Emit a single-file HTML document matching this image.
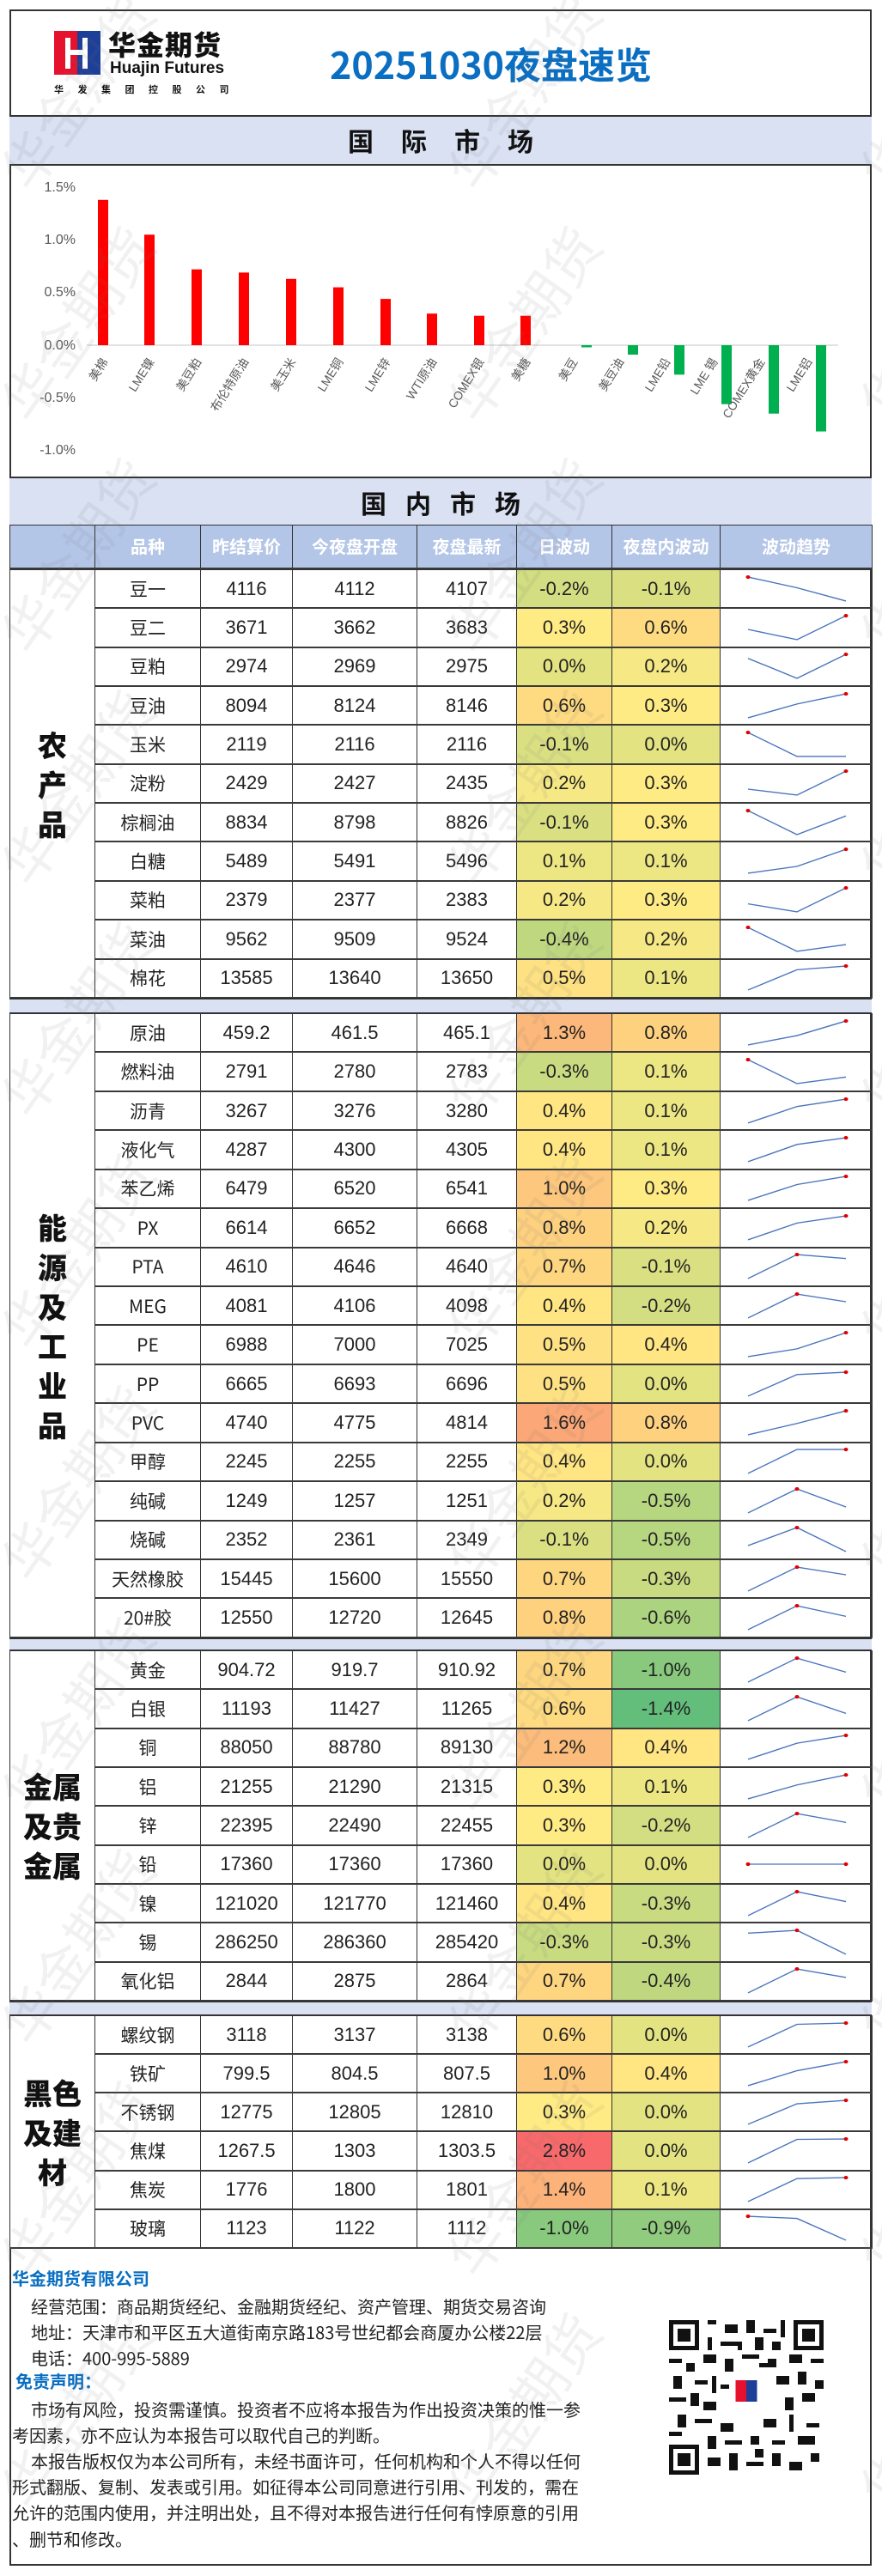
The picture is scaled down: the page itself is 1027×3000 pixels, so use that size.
<!DOCTYPE html>
<html><head><meta charset="utf-8">
<style>
*{margin:0;padding:0;box-sizing:border-box}
body{width:1027px;height:3000px;background:#fff;position:relative;overflow:hidden;font-family:"Liberation Sans","Noto Sans CJK SC",sans-serif;color:#222}
.abs{position:absolute}
.frame{left:11px;top:11px;width:1004px;height:2977px;border:2px solid #333}
.band{left:11px;width:1004px;background:#d9e1f2;border-top:2px solid #333;border-bottom:2px solid #333;text-align:center;font-weight:bold;color:#111;font-family:"Noto Sans CJK SC",sans-serif}
table{position:absolute;left:11px;width:1004px;border-collapse:collapse;table-layout:fixed}
td{border:1px solid #333;border-bottom:2px solid #3a3a3a;text-align:center;font-family:"Liberation Sans Narrow","Liberation Sans","Noto Sans CJK SC",sans-serif;font-size:22px;line-height:24px;color:#222;padding:0;height:38px;overflow:hidden}
td.nm{font-family:"Liberation Sans Narrow","Noto Sans CJK SC",sans-serif;font-size:21px}
td.cat{background:#fff;font-family:"Noto Sans CJK SC",sans-serif;font-weight:900;font-size:34px;line-height:46px;color:#111;border-right:1px solid #333}
td svg{display:block;height:38px;width:177px}
polyline{fill:none;stroke:#4a74bd;stroke-width:1.6}
circle{fill:#e00000}
.hd td{background:#b4c6e7;color:#fff;font-weight:bold;font-family:"Noto Sans CJK SC",sans-serif;font-size:20px;height:50px}
.n14{background:#63be7b}.n10{background:#88c97d}.n09{background:#91cb7e}.n06{background:#acd37f}.n05{background:#b6d680}.n04{background:#bfd880}.n03{background:#c8db81}.n02{background:#d2de81}.n01{background:#dae082}.z{background:#e3e382}.p01{background:#ece683}.p02{background:#f6e884}.p03{background:#ffeb84}.p04{background:#ffe683}.p05{background:#fee182}.p06{background:#fedb81}.p07{background:#fed680}.p08{background:#fed17f}.p10{background:#fdc77d}.p12{background:#fcbc7b}.p13{background:#fcb77a}.p14{background:#fcb279}.p16{background:#fba777}.p28{background:#f8696b}
.sep{left:11px;width:1004px;background:#d9e1f2;border-top:2px solid #333;border-bottom:2px solid #333}
.wm{position:absolute;font-family:"Noto Sans CJK SC",sans-serif;font-size:64px;color:rgba(120,120,120,0.10);transform:rotate(-55deg);white-space:nowrap;pointer-events:none}
.ft{position:absolute;left:36px;font-family:"Liberation Sans Narrow","Noto Sans CJK SC",sans-serif;font-size:20px;color:#222;white-space:nowrap}
</style></head><body>

<div class="abs frame"></div>

<div class="abs" style="left:63px;top:36px;width:27px;height:51px;background:#e5112d"></div>
<div class="abs" style="left:90px;top:36px;width:27px;height:51px;background:#1d3f97"></div>
<div class="abs" style="left:76px;top:44px;width:6px;height:36px;background:#fff"></div>
<div class="abs" style="left:96px;top:44px;width:6px;height:36px;background:#fff"></div>
<div class="abs" style="left:80px;top:58px;width:18px;height:6px;background:#fff"></div>
<div class="abs" style="left:126px;top:32px;font-family:'Noto Sans CJK SC',sans-serif;font-weight:900;font-size:32px;color:#111;letter-spacing:1px;line-height:38px">华金期货</div>
<div class="abs" style="left:128px;top:70px;font-family:'Liberation Sans Narrow','Liberation Sans',sans-serif;font-weight:bold;font-size:19px;color:#111;line-height:20px">Huajin Futures</div>
<div class="abs" style="left:63px;top:97px;font-family:'Noto Sans CJK SC',sans-serif;font-weight:bold;font-size:11px;color:#111;letter-spacing:16.5px;line-height:14px">华发集团控股公司</div>
<div class="abs" style="left:384px;top:46px;font-family:'Liberation Sans Narrow','Noto Sans CJK SC',sans-serif;font-weight:bold;font-size:43px;color:#0a6fc2;line-height:56px;white-space:nowrap">20251030夜盘速览</div>

<div class="abs band" style="top:134px;height:59px;font-size:30px;line-height:55px;letter-spacing:32px;padding-left:32px">国际市场</div>

<svg class="abs" style="left:0;top:0" width="1027" height="555">
<g font-family="Liberation Sans Narrow,Liberation Sans,sans-serif" font-size="16" fill="#595959" text-anchor="end">
<text x="88" y="223">1.5%</text><text x="88" y="284">1.0%</text><text x="88" y="345">0.5%</text><text x="88" y="407">0.0%</text><text x="88" y="468">-0.5%</text><text x="88" y="529">-1.0%</text>
</g>
<line x1="101" y1="402" x2="976" y2="402" stroke="#d9d9d9" stroke-width="1.5"/>
<g fill="#ff0000">
<rect x="114" y="232.8" width="12" height="169.2"/>
<rect x="168" y="273.3" width="12" height="128.7"/>
<rect x="223" y="313.7" width="12" height="88.3"/>
<rect x="278" y="317.4" width="12" height="84.6"/>
<rect x="333" y="324.8" width="12" height="77.2"/>
<rect x="388" y="334.6" width="12" height="67.4"/>
<rect x="443" y="348.1" width="12" height="53.9"/>
<rect x="497" y="365.2" width="12" height="36.8"/>
<rect x="552" y="367.7" width="12" height="34.3"/>
<rect x="606" y="367.7" width="12" height="34.3"/>
</g>
<g fill="#00b050">
<rect x="677" y="402" width="12" height="2.5"/>
<rect x="731" y="402" width="12" height="11"/>
<rect x="785" y="402" width="12" height="34.3"/>
<rect x="840" y="402" width="12" height="68.7"/>
<rect x="895" y="402" width="12" height="79.7"/>
<rect x="950" y="402" width="12" height="100.5"/>
</g>
<g font-family="Liberation Sans,Noto Sans CJK SC,sans-serif" font-size="14" fill="#595959" text-anchor="end">
<text transform="translate(126,421) rotate(-58)">美棉</text>
<text transform="translate(180,421) rotate(-58)">LME镍</text>
<text transform="translate(235,421) rotate(-58)">美豆粕</text>
<text transform="translate(290,421) rotate(-58)">布伦特原油</text>
<text transform="translate(345,421) rotate(-58)">美玉米</text>
<text transform="translate(400,421) rotate(-58)">LME铜</text>
<text transform="translate(455,421) rotate(-58)">LME锌</text>
<text transform="translate(509,421) rotate(-58)">WTI原油</text>
<text transform="translate(564,421) rotate(-58)">COMEX银</text>
<text transform="translate(618,421) rotate(-58)">美糖</text>
<text transform="translate(673,421) rotate(-58)">美豆</text>
<text transform="translate(727,421) rotate(-58)">美豆油</text>
<text transform="translate(781,421) rotate(-58)">LME铅</text>
<text transform="translate(836,421) rotate(-58)">LME 锡</text>
<text transform="translate(891,421) rotate(-58)">COMEX黄金</text>
<text transform="translate(946,421) rotate(-58)">LME铝</text>
</g>
</svg>

<div class="abs band" style="top:555px;height:58px;font-size:30px;line-height:56px;letter-spacing:22px;padding-left:22px">国内市场</div>

<table class="hd" style="top:611px">
<colgroup><col style="width:99px"><col style="width:123px"><col style="width:107px"><col style="width:145px"><col style="width:116px"><col style="width:111px"><col style="width:126px"><col style="width:177px"></colgroup>
<tr><td></td><td>品种</td><td>昨结算价</td><td>今夜盘开盘</td><td>夜盘最新</td><td>日波动</td><td>夜盘内波动</td><td>波动趋势</td></tr>
</table>

<table style="top:663px;height:500px">
<colgroup><col style="width:99px"><col style="width:123px"><col style="width:107px"><col style="width:145px"><col style="width:116px"><col style="width:111px"><col style="width:126px"><col style="width:177px"></colgroup>
<tr><td class="cat" rowspan="11">农<br>产<br>品</td><td class="nm">豆一</td><td>4116</td><td>4112</td><td>4107</td><td class="n02">-0.2%</td><td class="n01">-0.1%</td><td><svg viewBox="0 0 177 45" preserveAspectRatio="none"><polyline points="32,6 89,20.7 146,39"/><circle cx="32" cy="6" r="2.5"/></svg></td></tr>
<tr><td class="nm">豆二</td><td>3671</td><td>3662</td><td>3683</td><td class="p03">0.3%</td><td class="p06">0.6%</td><td><svg viewBox="0 0 177 45" preserveAspectRatio="none"><polyline points="32,24.9 89,39 146,6"/><circle cx="146" cy="6" r="2.5"/></svg></td></tr>
<tr><td class="nm">豆粕</td><td>2974</td><td>2969</td><td>2975</td><td class="z">0.0%</td><td class="p02">0.2%</td><td><svg viewBox="0 0 177 45" preserveAspectRatio="none"><polyline points="32,11.5 89,39 146,6"/><circle cx="146" cy="6" r="2.5"/></svg></td></tr>
<tr><td class="nm">豆油</td><td>8094</td><td>8124</td><td>8146</td><td class="p06">0.6%</td><td class="p03">0.3%</td><td><svg viewBox="0 0 177 45" preserveAspectRatio="none"><polyline points="32,39 89,20 146,6"/><circle cx="146" cy="6" r="2.5"/></svg></td></tr>
<tr><td class="nm">玉米</td><td>2119</td><td>2116</td><td>2116</td><td class="n01">-0.1%</td><td class="z">0.0%</td><td><svg viewBox="0 0 177 45" preserveAspectRatio="none"><polyline points="32,6 89,39 146,39"/><circle cx="32" cy="6" r="2.5"/></svg></td></tr>
<tr><td class="nm">淀粉</td><td>2429</td><td>2427</td><td>2435</td><td class="p02">0.2%</td><td class="p03">0.3%</td><td><svg viewBox="0 0 177 45" preserveAspectRatio="none"><polyline points="32,30.8 89,39 146,6"/><circle cx="146" cy="6" r="2.5"/></svg></td></tr>
<tr><td class="nm">棕榈油</td><td>8834</td><td>8798</td><td>8826</td><td class="n01">-0.1%</td><td class="p03">0.3%</td><td><svg viewBox="0 0 177 45" preserveAspectRatio="none"><polyline points="32,6 89,39 146,13.3"/><circle cx="32" cy="6" r="2.5"/></svg></td></tr>
<tr><td class="nm">白糖</td><td>5489</td><td>5491</td><td>5496</td><td class="p01">0.1%</td><td class="p01">0.1%</td><td><svg viewBox="0 0 177 45" preserveAspectRatio="none"><polyline points="32,39 89,29.6 146,6"/><circle cx="146" cy="6" r="2.5"/></svg></td></tr>
<tr><td class="nm">菜粕</td><td>2379</td><td>2377</td><td>2383</td><td class="p02">0.2%</td><td class="p03">0.3%</td><td><svg viewBox="0 0 177 45" preserveAspectRatio="none"><polyline points="32,28 89,39 146,6"/><circle cx="146" cy="6" r="2.5"/></svg></td></tr>
<tr><td class="nm">菜油</td><td>9562</td><td>9509</td><td>9524</td><td class="n04">-0.4%</td><td class="p02">0.2%</td><td><svg viewBox="0 0 177 45" preserveAspectRatio="none"><polyline points="32,6 89,39 146,29.7"/><circle cx="32" cy="6" r="2.5"/></svg></td></tr>
<tr><td class="nm">棉花</td><td>13585</td><td>13640</td><td>13650</td><td class="p05">0.5%</td><td class="p01">0.1%</td><td><svg viewBox="0 0 177 45" preserveAspectRatio="none"><polyline points="32,39 89,11.1 146,6"/><circle cx="146" cy="6" r="2.5"/></svg></td></tr>
</table>

<div class="abs sep" style="top:1162px;height:19px"></div>

<table style="top:1180px;height:728px">
<colgroup><col style="width:99px"><col style="width:123px"><col style="width:107px"><col style="width:145px"><col style="width:116px"><col style="width:111px"><col style="width:126px"><col style="width:177px"></colgroup>
<tr><td class="cat" rowspan="16">能<br>源<br>及<br>工<br>业<br>品</td><td class="nm">原油</td><td>459.2</td><td>461.5</td><td>465.1</td><td class="p13">1.3%</td><td class="p08">0.8%</td><td><svg viewBox="0 0 177 45" preserveAspectRatio="none"><polyline points="32,39 89,26.1 146,6"/><circle cx="146" cy="6" r="2.5"/></svg></td></tr>
<tr><td class="nm">燃料油</td><td>2791</td><td>2780</td><td>2783</td><td class="n03">-0.3%</td><td class="p01">0.1%</td><td><svg viewBox="0 0 177 45" preserveAspectRatio="none"><polyline points="32,6 89,39 146,30"/><circle cx="32" cy="6" r="2.5"/></svg></td></tr>
<tr><td class="nm">沥青</td><td>3267</td><td>3276</td><td>3280</td><td class="p04">0.4%</td><td class="p01">0.1%</td><td><svg viewBox="0 0 177 45" preserveAspectRatio="none"><polyline points="32,39 89,16.2 146,6"/><circle cx="146" cy="6" r="2.5"/></svg></td></tr>
<tr><td class="nm">液化气</td><td>4287</td><td>4300</td><td>4305</td><td class="p04">0.4%</td><td class="p01">0.1%</td><td><svg viewBox="0 0 177 45" preserveAspectRatio="none"><polyline points="32,39 89,15.2 146,6"/><circle cx="146" cy="6" r="2.5"/></svg></td></tr>
<tr><td class="nm">苯乙烯</td><td>6479</td><td>6520</td><td>6541</td><td class="p10">1.0%</td><td class="p03">0.3%</td><td><svg viewBox="0 0 177 45" preserveAspectRatio="none"><polyline points="32,39 89,17.2 146,6"/><circle cx="146" cy="6" r="2.5"/></svg></td></tr>
<tr><td class="nm">PX</td><td>6614</td><td>6652</td><td>6668</td><td class="p08">0.8%</td><td class="p02">0.2%</td><td><svg viewBox="0 0 177 45" preserveAspectRatio="none"><polyline points="32,39 89,15.8 146,6"/><circle cx="146" cy="6" r="2.5"/></svg></td></tr>
<tr><td class="nm">PTA</td><td>4610</td><td>4646</td><td>4640</td><td class="p07">0.7%</td><td class="n01">-0.1%</td><td><svg viewBox="0 0 177 45" preserveAspectRatio="none"><polyline points="32,39 89,6 146,11.5"/><circle cx="89" cy="6" r="2.5"/></svg></td></tr>
<tr><td class="nm">MEG</td><td>4081</td><td>4106</td><td>4098</td><td class="p04">0.4%</td><td class="n02">-0.2%</td><td><svg viewBox="0 0 177 45" preserveAspectRatio="none"><polyline points="32,39 89,6 146,16.6"/><circle cx="89" cy="6" r="2.5"/></svg></td></tr>
<tr><td class="nm">PE</td><td>6988</td><td>7000</td><td>7025</td><td class="p05">0.5%</td><td class="p04">0.4%</td><td><svg viewBox="0 0 177 45" preserveAspectRatio="none"><polyline points="32,39 89,28.3 146,6"/><circle cx="146" cy="6" r="2.5"/></svg></td></tr>
<tr><td class="nm">PP</td><td>6665</td><td>6693</td><td>6696</td><td class="p05">0.5%</td><td class="z">0.0%</td><td><svg viewBox="0 0 177 45" preserveAspectRatio="none"><polyline points="32,39 89,9.2 146,6"/><circle cx="146" cy="6" r="2.5"/></svg></td></tr>
<tr><td class="nm">PVC</td><td>4740</td><td>4775</td><td>4814</td><td class="p16">1.6%</td><td class="p08">0.8%</td><td><svg viewBox="0 0 177 45" preserveAspectRatio="none"><polyline points="32,39 89,23.4 146,6"/><circle cx="146" cy="6" r="2.5"/></svg></td></tr>
<tr><td class="nm">甲醇</td><td>2245</td><td>2255</td><td>2255</td><td class="p04">0.4%</td><td class="z">0.0%</td><td><svg viewBox="0 0 177 45" preserveAspectRatio="none"><polyline points="32,39 89,6 146,6"/><circle cx="146" cy="6" r="2.5"/></svg></td></tr>
<tr><td class="nm">纯碱</td><td>1249</td><td>1257</td><td>1251</td><td class="p02">0.2%</td><td class="n05">-0.5%</td><td><svg viewBox="0 0 177 45" preserveAspectRatio="none"><polyline points="32,39 89,6 146,30.8"/><circle cx="89" cy="6" r="2.5"/></svg></td></tr>
<tr><td class="nm">烧碱</td><td>2352</td><td>2361</td><td>2349</td><td class="n01">-0.1%</td><td class="n05">-0.5%</td><td><svg viewBox="0 0 177 45" preserveAspectRatio="none"><polyline points="32,30.8 89,6 146,39"/><circle cx="89" cy="6" r="2.5"/></svg></td></tr>
<tr><td class="nm">天然橡胶</td><td>15445</td><td>15600</td><td>15550</td><td class="p07">0.7%</td><td class="n03">-0.3%</td><td><svg viewBox="0 0 177 45" preserveAspectRatio="none"><polyline points="32,39 89,6 146,16.6"/><circle cx="89" cy="6" r="2.5"/></svg></td></tr>
<tr><td class="nm">20#胶</td><td>12550</td><td>12720</td><td>12645</td><td class="p08">0.8%</td><td class="n06">-0.6%</td><td><svg viewBox="0 0 177 45" preserveAspectRatio="none"><polyline points="32,39 89,6 146,20.6"/><circle cx="89" cy="6" r="2.5"/></svg></td></tr>
</table>

<div class="abs sep" style="top:1907px;height:16px"></div>

<table style="top:1922px;height:409px">
<colgroup><col style="width:99px"><col style="width:123px"><col style="width:107px"><col style="width:145px"><col style="width:116px"><col style="width:111px"><col style="width:126px"><col style="width:177px"></colgroup>
<tr><td class="cat" rowspan="9">金属<br>及贵<br>金属</td><td class="nm">黄金</td><td>904.72</td><td>919.7</td><td>910.92</td><td class="p07">0.7%</td><td class="n10">-1.0%</td><td><svg viewBox="0 0 177 45" preserveAspectRatio="none"><polyline points="32,39 89,6 146,25.3"/><circle cx="89" cy="6" r="2.5"/></svg></td></tr>
<tr><td class="nm">白银</td><td>11193</td><td>11427</td><td>11265</td><td class="p06">0.6%</td><td class="n14">-1.4%</td><td><svg viewBox="0 0 177 45" preserveAspectRatio="none"><polyline points="32,39 89,6 146,28.8"/><circle cx="89" cy="6" r="2.5"/></svg></td></tr>
<tr><td class="nm">铜</td><td>88050</td><td>88780</td><td>89130</td><td class="p12">1.2%</td><td class="p04">0.4%</td><td><svg viewBox="0 0 177 45" preserveAspectRatio="none"><polyline points="32,39 89,16.7 146,6"/><circle cx="146" cy="6" r="2.5"/></svg></td></tr>
<tr><td class="nm">铝</td><td>21255</td><td>21290</td><td>21315</td><td class="p03">0.3%</td><td class="p01">0.1%</td><td><svg viewBox="0 0 177 45" preserveAspectRatio="none"><polyline points="32,39 89,19.8 146,6"/><circle cx="146" cy="6" r="2.5"/></svg></td></tr>
<tr><td class="nm">锌</td><td>22395</td><td>22490</td><td>22455</td><td class="p03">0.3%</td><td class="n02">-0.2%</td><td><svg viewBox="0 0 177 45" preserveAspectRatio="none"><polyline points="32,39 89,6 146,18.2"/><circle cx="89" cy="6" r="2.5"/></svg></td></tr>
<tr><td class="nm">铅</td><td>17360</td><td>17360</td><td>17360</td><td class="z">0.0%</td><td class="z">0.0%</td><td><svg viewBox="0 0 177 45" preserveAspectRatio="none"><polyline points="32,22.5 89,22.5 146,22.5"/><circle cx="32" cy="22.5" r="2.5"/><circle cx="146" cy="22.5" r="2.5"/></svg></td></tr>
<tr><td class="nm">镍</td><td>121020</td><td>121770</td><td>121460</td><td class="p04">0.4%</td><td class="n03">-0.3%</td><td><svg viewBox="0 0 177 45" preserveAspectRatio="none"><polyline points="32,39 89,6 146,19.6"/><circle cx="89" cy="6" r="2.5"/></svg></td></tr>
<tr><td class="nm">锡</td><td>286250</td><td>286360</td><td>285420</td><td class="n03">-0.3%</td><td class="n03">-0.3%</td><td><svg viewBox="0 0 177 45" preserveAspectRatio="none"><polyline points="32,9.9 89,6 146,39"/><circle cx="89" cy="6" r="2.5"/></svg></td></tr>
<tr><td class="nm">氧化铝</td><td>2844</td><td>2875</td><td>2864</td><td class="p07">0.7%</td><td class="n04">-0.4%</td><td><svg viewBox="0 0 177 45" preserveAspectRatio="none"><polyline points="32,39 89,6 146,17.7"/><circle cx="89" cy="6" r="2.5"/></svg></td></tr>
</table>

<div class="abs sep" style="top:2330px;height:18px"></div>

<table style="top:2347px;height:272px">
<colgroup><col style="width:99px"><col style="width:123px"><col style="width:107px"><col style="width:145px"><col style="width:116px"><col style="width:111px"><col style="width:126px"><col style="width:177px"></colgroup>
<tr><td class="cat" rowspan="6">黑色<br>及建<br>材</td><td class="nm">螺纹钢</td><td>3118</td><td>3137</td><td>3138</td><td class="p06">0.6%</td><td class="z">0.0%</td><td><svg viewBox="0 0 177 45" preserveAspectRatio="none"><polyline points="32,39 89,7.7 146,6"/><circle cx="146" cy="6" r="2.5"/></svg></td></tr>
<tr><td class="nm">铁矿</td><td>799.5</td><td>804.5</td><td>807.5</td><td class="p10">1.0%</td><td class="p04">0.4%</td><td><svg viewBox="0 0 177 45" preserveAspectRatio="none"><polyline points="32,39 89,18.4 146,6"/><circle cx="146" cy="6" r="2.5"/></svg></td></tr>
<tr><td class="nm">不锈钢</td><td>12775</td><td>12805</td><td>12810</td><td class="p03">0.3%</td><td class="z">0.0%</td><td><svg viewBox="0 0 177 45" preserveAspectRatio="none"><polyline points="32,39 89,10.7 146,6"/><circle cx="146" cy="6" r="2.5"/></svg></td></tr>
<tr><td class="nm">焦煤</td><td>1267.5</td><td>1303</td><td>1303.5</td><td class="p28">2.8%</td><td class="z">0.0%</td><td><svg viewBox="0 0 177 45" preserveAspectRatio="none"><polyline points="32,39 89,6.5 146,6"/><circle cx="146" cy="6" r="2.5"/></svg></td></tr>
<tr><td class="nm">焦炭</td><td>1776</td><td>1800</td><td>1801</td><td class="p14">1.4%</td><td class="p01">0.1%</td><td><svg viewBox="0 0 177 45" preserveAspectRatio="none"><polyline points="32,39 89,7.3 146,6"/><circle cx="146" cy="6" r="2.5"/></svg></td></tr>
<tr><td class="nm">玻璃</td><td>1123</td><td>1122</td><td>1112</td><td class="n10">-1.0%</td><td class="n09">-0.9%</td><td><svg viewBox="0 0 177 45" preserveAspectRatio="none"><polyline points="32,6 89,9 146,39"/><circle cx="32" cy="6" r="2.5"/></svg></td></tr>
</table>

<div class="abs" style="left:14px;top:2640px;font-family:'Noto Sans CJK SC',sans-serif;font-weight:bold;font-size:20px;color:#0a6fc2;line-height:26px">华金期货有限公司</div>
<div class="ft" style="top:2671px">经营范围：商品期货经纪、金融期货经纪、资产管理、期货交易咨询</div>
<div class="ft" style="top:2701px">地址：天津市和平区五大道街南京路183号世纪都会商厦办公楼22层</div>
<div class="ft" style="top:2731px">电话：400-995-5889</div>
<div class="abs" style="left:18px;top:2760px;font-family:'Noto Sans CJK SC',sans-serif;font-weight:bold;font-size:20px;color:#0a6fc2;line-height:26px">免责声明：</div>
<div class="ft" style="top:2791px">市场有风险，投资需谨慎。投资者不应将本报告为作出投资决策的惟一参</div>
<div class="ft" style="top:2821px;left:14px">考因素，亦不应认为本报告可以取代自己的判断。</div>
<div class="ft" style="top:2851px">本报告版权仅为本公司所有，未经书面许可，任何机构和个人不得以任何</div>
<div class="ft" style="top:2881px;left:14px">形式翻版、复制、发表或引用。如征得本公司同意进行引用、刊发的，需在</div>
<div class="ft" style="top:2911px;left:14px">允许的范围内使用，并注明出处，且不得对本报告进行任何有悖原意的引用</div>
<div class="ft" style="top:2942px;left:14px">、删节和修改。</div>

<svg class="abs" style="left:779px;top:2702px" width="180" height="180" viewBox="0 0 36 36">
<rect width="36" height="36" fill="#fff"/>
<g fill="#111">
<path d="M0 0h7v7h-7zM1 1v5h5v-5zM2 2h3v3h-3z" fill-rule="evenodd"/>
<path d="M29 0h7v7h-7zM30 1v5h5v-5zM31 2h3v3h-3z" fill-rule="evenodd"/>
<path d="M0 29h7v7h-7zM1 30v5h5v-5zM2 31h3v3h-3z" fill-rule="evenodd"/>
<rect x="9" y="0" width="2" height="1"/><rect x="13" y="1" width="3" height="2"/><rect x="18" y="0" width="2" height="3"/><rect x="22" y="2" width="3" height="1"/><rect x="26" y="0" width="1" height="4"/>
<rect x="9" y="4" width="1" height="3"/><rect x="12" y="5" width="4" height="1"/><rect x="20" y="4" width="2" height="3"/><rect x="24" y="5" width="2" height="2"/>
<rect x="0" y="9" width="3" height="1"/><rect x="4" y="10" width="2" height="2"/><rect x="8" y="8" width="3" height="2"/><rect x="13" y="9" width="2" height="3"/><rect x="17" y="8" width="4" height="1"/><rect x="23" y="9" width="2" height="2"/><rect x="28" y="8" width="3" height="2"/><rect x="33" y="9" width="3" height="1"/>
<rect x="1" y="13" width="2" height="3"/><rect x="6" y="14" width="3" height="1"/><rect x="10" y="13" width="1" height="4"/><rect x="25" y="13" width="3" height="2"/><rect x="30" y="12" width="2" height="3"/><rect x="34" y="14" width="2" height="2"/>
<rect x="0" y="18" width="4" height="1"/><rect x="5" y="17" width="2" height="3"/><rect x="8" y="19" width="3" height="2"/><rect x="27" y="18" width="2" height="3"/><rect x="31" y="17" width="3" height="2"/>
<rect x="2" y="22" width="2" height="3"/><rect x="6" y="23" width="4" height="1"/><rect x="12" y="24" width="3" height="2"/><rect x="22" y="23" width="3" height="2"/><rect x="28" y="22" width="1" height="4"/><rect x="32" y="24" width="3" height="1"/>
<rect x="0" y="26" width="3" height="1"/><rect x="9" y="27" width="2" height="3"/><rect x="13" y="28" width="4" height="1"/><rect x="19" y="27" width="2" height="2"/><rect x="24" y="28" width="3" height="1"/><rect x="30" y="27" width="4" height="2"/>
<rect x="9" y="32" width="3" height="2"/><rect x="14" y="31" width="2" height="4"/><rect x="18" y="33" width="4" height="1"/><rect x="24" y="31" width="2" height="3"/><rect x="28" y="33" width="3" height="2"/><rect x="33" y="31" width="2" height="2"/>
<rect x="16" y="5" width="1" height="2"/><rect x="21" y="10" width="2" height="1"/><rect x="12" y="15" width="2" height="1"/><rect x="15" y="20" width="1" height="2"/><rect x="20" y="30" width="2" height="2"/>
</g>
<rect x="14" y="13" width="8" height="9" fill="#fff"/>
<rect x="15.5" y="14" width="2.5" height="5" fill="#e5112d"/><rect x="18" y="14" width="2.5" height="5" fill="#1d3f97"/>
</svg>

<div class="wm" style="left:-40px;top:60px">华金期货</div>
<div class="wm" style="left:480px;top:60px">华金期货</div>
<div class="wm" style="left:960px;top:60px">华金期货</div>
<div class="wm" style="left:-40px;top:330px">华金期货</div>
<div class="wm" style="left:480px;top:330px">华金期货</div>
<div class="wm" style="left:960px;top:330px">华金期货</div>
<div class="wm" style="left:-40px;top:600px">华金期货</div>
<div class="wm" style="left:480px;top:600px">华金期货</div>
<div class="wm" style="left:960px;top:600px">华金期货</div>
<div class="wm" style="left:-40px;top:870px">华金期货</div>
<div class="wm" style="left:480px;top:870px">华金期货</div>
<div class="wm" style="left:960px;top:870px">华金期货</div>
<div class="wm" style="left:-40px;top:1140px">华金期货</div>
<div class="wm" style="left:480px;top:1140px">华金期货</div>
<div class="wm" style="left:960px;top:1140px">华金期货</div>
<div class="wm" style="left:-40px;top:1410px">华金期货</div>
<div class="wm" style="left:480px;top:1410px">华金期货</div>
<div class="wm" style="left:960px;top:1410px">华金期货</div>
<div class="wm" style="left:-40px;top:1680px">华金期货</div>
<div class="wm" style="left:480px;top:1680px">华金期货</div>
<div class="wm" style="left:960px;top:1680px">华金期货</div>
<div class="wm" style="left:-40px;top:1950px">华金期货</div>
<div class="wm" style="left:480px;top:1950px">华金期货</div>
<div class="wm" style="left:960px;top:1950px">华金期货</div>
<div class="wm" style="left:-40px;top:2220px">华金期货</div>
<div class="wm" style="left:480px;top:2220px">华金期货</div>
<div class="wm" style="left:960px;top:2220px">华金期货</div>
<div class="wm" style="left:-40px;top:2490px">华金期货</div>
<div class="wm" style="left:480px;top:2490px">华金期货</div>
<div class="wm" style="left:960px;top:2490px">华金期货</div>
<div class="wm" style="left:-40px;top:2760px">华金期货</div>
<div class="wm" style="left:480px;top:2760px">华金期货</div>
<div class="wm" style="left:960px;top:2760px">华金期货</div>

</body></html>
